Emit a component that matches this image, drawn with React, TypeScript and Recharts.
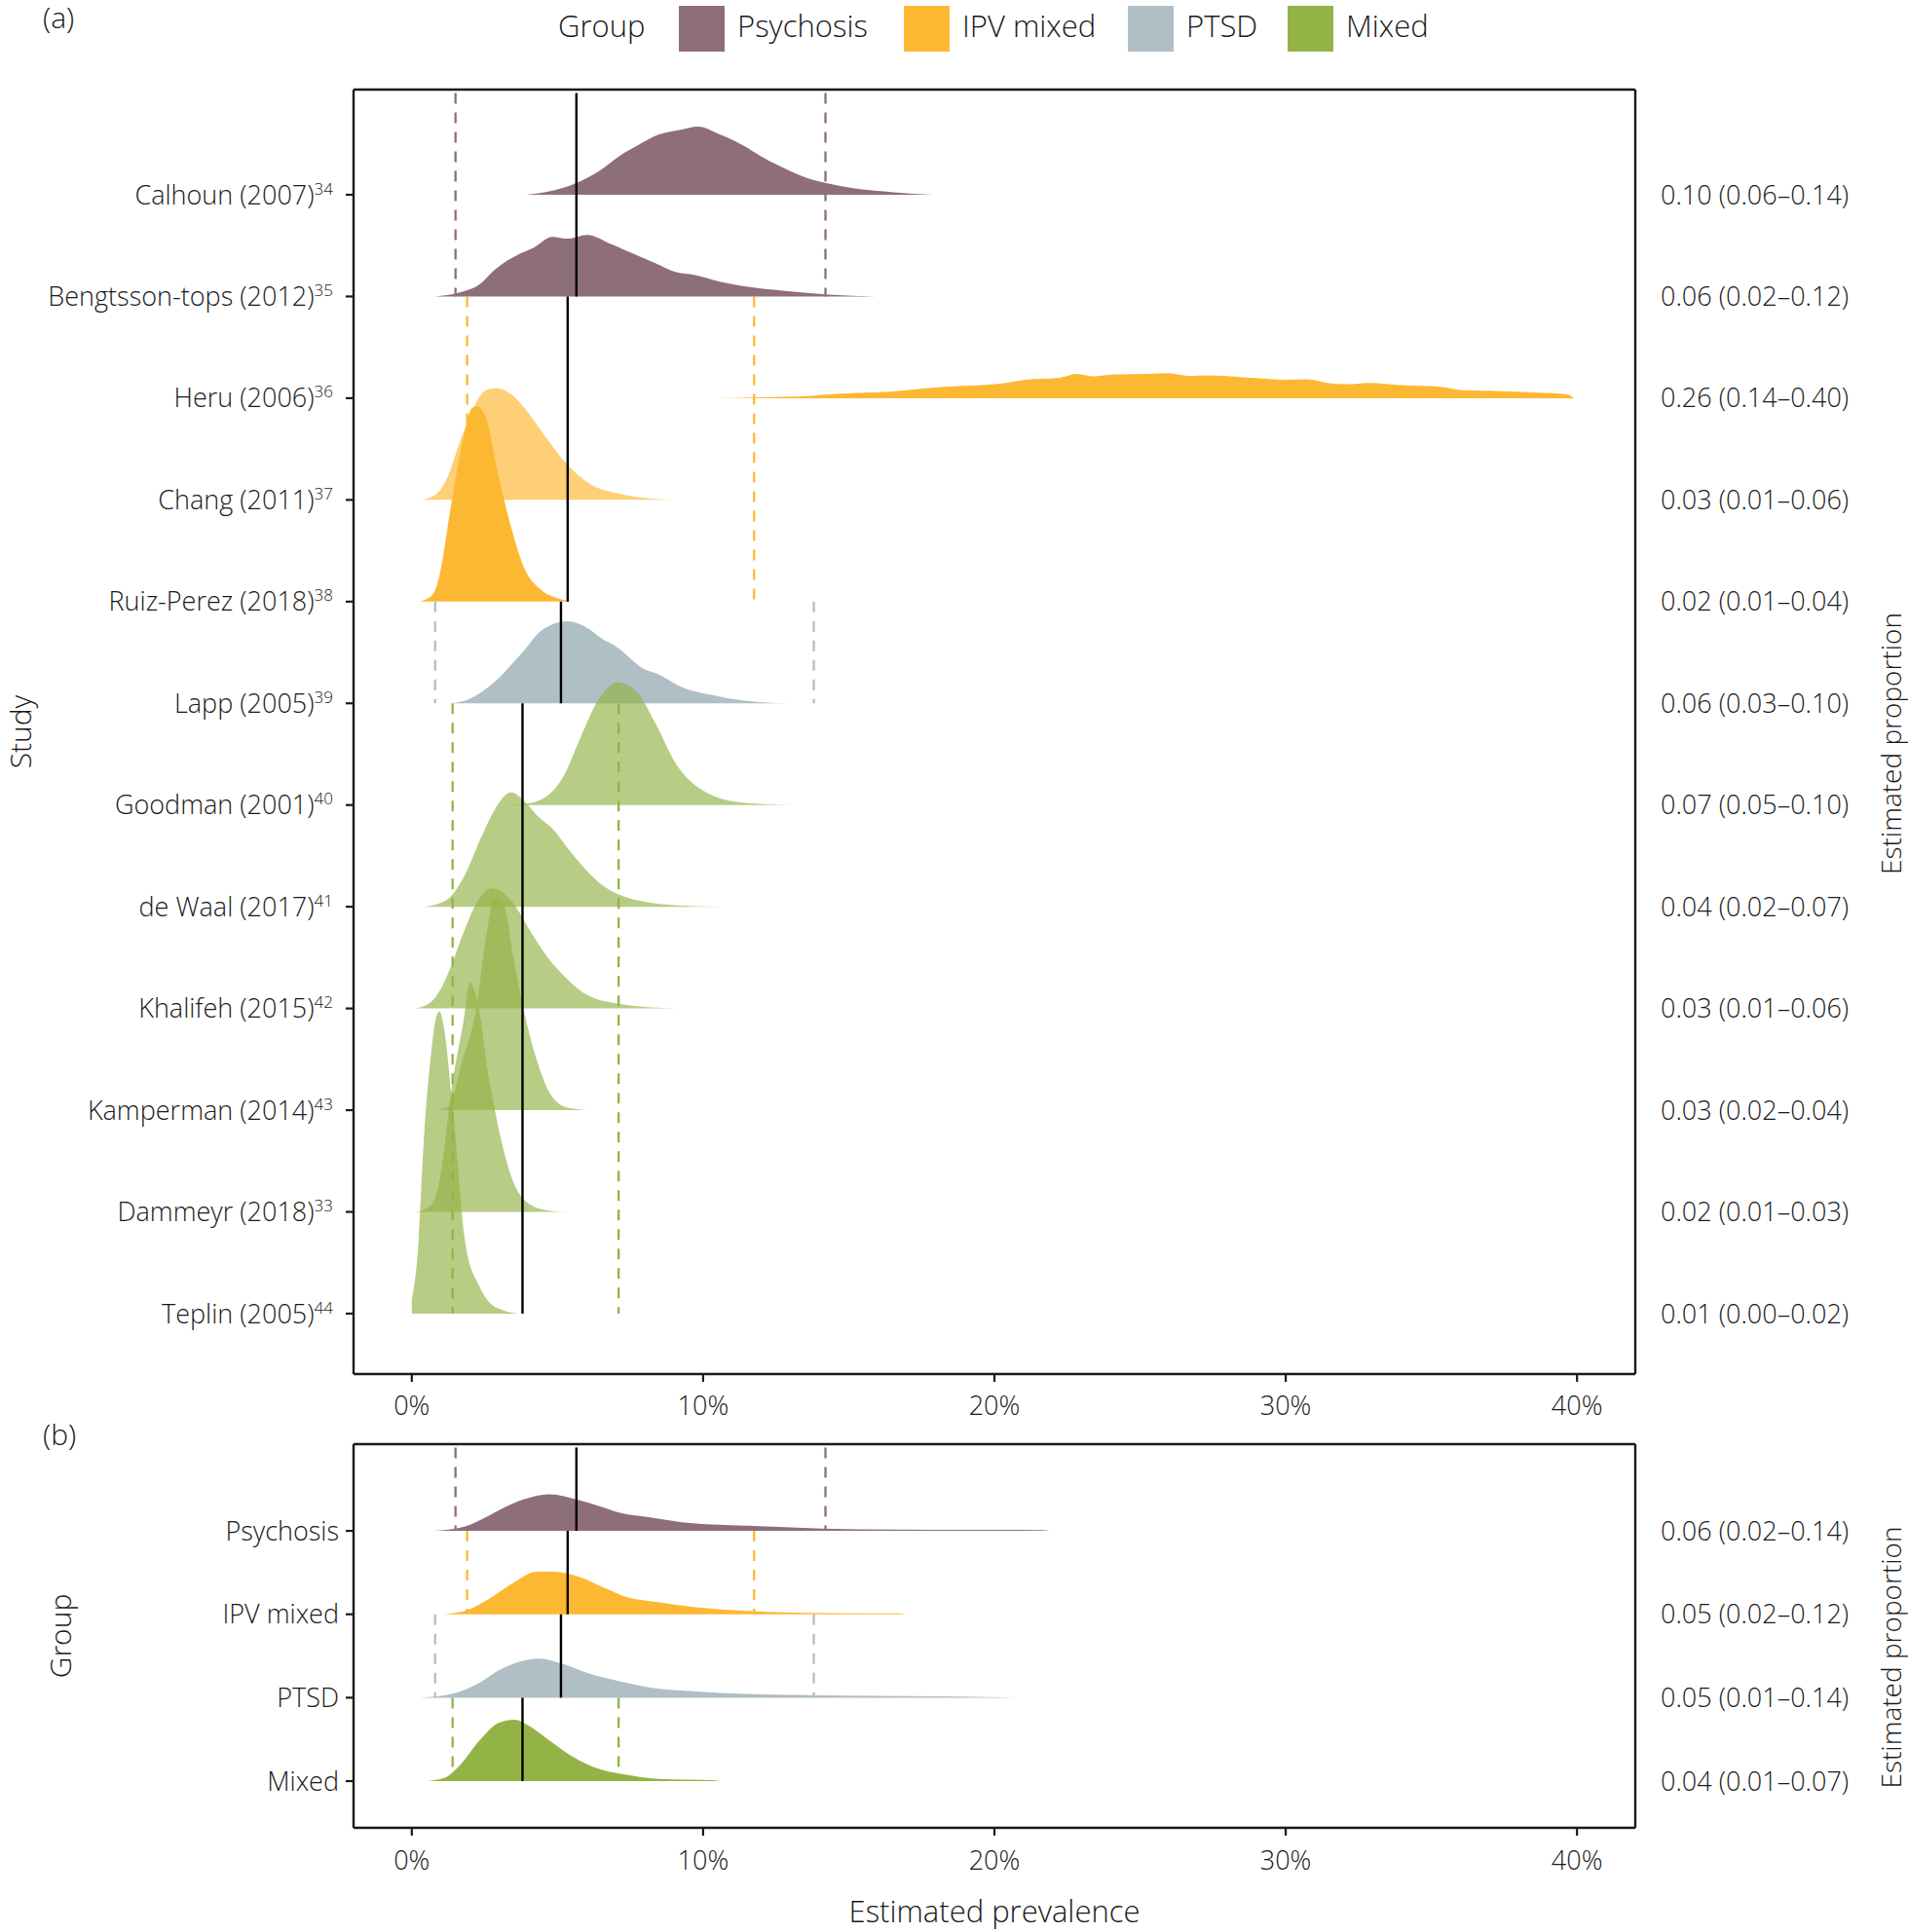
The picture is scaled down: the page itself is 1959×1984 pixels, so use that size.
import React from 'react';
import { Area, ComposedChart, ReferenceLine, XAxis, YAxis } from 'recharts';

const FONT = "'Open Sans', 'Noto Sans', sans-serif";
const INK = '#1a1a1a';

const groups = ['Psychosis', 'IPV mixed', 'PTSD', 'Mixed'];
const groupColors = ['#8e6e7b', '#fdb833', '#b0bfc6', '#93b347'];

// pooled prevalence per group (%), with the interval drawn as dashed lines
const groupPooled = [5.65, 5.35, 5.12, 3.8];
const groupLower = [1.5, 1.9, 0.8, 1.4];
const groupUpper = [14.2, 11.75, 13.8, 7.1];

// printed on the right of panel (b)
const groupProp = [0.06, 0.05, 0.05, 0.04];
const groupPropLo = [0.02, 0.02, 0.01, 0.01];
const groupPropHi = [0.14, 0.12, 0.14, 0.07];

const studies = [
  'Calhoun (2007)',
  'Bengtsson-tops (2012)',
  'Heru (2006)',
  'Chang (2011)',
  'Ruiz-Perez (2018)',
  'Lapp (2005)',
  'Goodman (2001)',
  'de Waal (2017)',
  'Khalifeh (2015)',
  'Kamperman (2014)',
  'Dammeyr (2018)',
  'Teplin (2005)',
];
const studyRefs = ['34', '35', '36', '37', '38', '39', '40', '41', '42', '43', '33', '44'];
const studyGroup = [0, 0, 1, 1, 1, 2, 3, 3, 3, 3, 3, 3];
const studyProp = [0.1, 0.06, 0.26, 0.03, 0.02, 0.06, 0.07, 0.04, 0.03, 0.03, 0.02, 0.01];
const studyPropLo = [0.06, 0.02, 0.14, 0.01, 0.01, 0.03, 0.05, 0.02, 0.01, 0.02, 0.01, 0.0];
const studyPropHi = [0.14, 0.12, 0.4, 0.06, 0.04, 0.1, 0.1, 0.07, 0.06, 0.04, 0.03, 0.02];

// posterior densities: [prevalence %, height in row units]
const calhoun = [[3.94, 0], [4.76, 0.036], [5.6, 0.11], [6.4, 0.227], [7.14, 0.384], [7.74, 0.483], [8.49, 0.593], [9.23, 0.64], [9.82, 0.67], [10.57, 0.593], [11.32, 0.494], [12.06, 0.366], [12.96, 0.237], [13.56, 0.165], [14.3, 0.11], [15.2, 0.062], [16.54, 0.025], [17.88, 0]];
const bengtsson = [[0.8, 0], [1.62, 0.037], [2.37, 0.128], [2.82, 0.256], [3.71, 0.421], [4.16, 0.477], [4.83, 0.587], [5.35, 0.568], [6.02, 0.605], [6.85, 0.513], [7.6, 0.421], [8.34, 0.33], [9.08, 0.238], [9.68, 0.212], [10.57, 0.146], [11.61, 0.092], [12.8, 0.055], [14.3, 0.019], [15.94, 0]];
const heru = [[10.48, 0], [11.7, 0.006], [13.71, 0.022], [14.16, 0.035], [16.38, 0.064], [17.94, 0.105], [20.39, 0.15], [21.06, 0.182], [22.17, 0.198], [22.84, 0.239], [23.4, 0.214], [24.07, 0.233], [25.29, 0.239], [25.96, 0.246], [26.74, 0.217], [27.3, 0.223], [28.97, 0.198], [29.97, 0.182], [30.75, 0.185], [31.42, 0.15], [32.09, 0.137], [32.87, 0.15], [33.98, 0.128], [35.32, 0.112], [36.1, 0.077], [37.21, 0.07], [38.66, 0.054], [39.66, 0.038], [39.9, 0]];
const chang = [[0.36, 0], [0.88, 0.066], [1.18, 0.194], [1.62, 0.545], [2.07, 0.874], [2.52, 1.075], [2.89, 1.1], [3.41, 1.04], [4.0, 0.855], [4.6, 0.617], [5.35, 0.343], [6.1, 0.16], [7.14, 0.06], [8.34, 0.01], [9.0, 0]];
const ruizPerez = [[0.28, 0], [0.73, 0.074], [0.95, 0.256], [1.33, 0.915], [1.77, 1.61], [2.07, 1.905], [2.22, 1.92], [2.52, 1.83], [2.97, 1.245], [3.41, 0.733], [3.86, 0.33], [4.46, 0.11], [5.05, 0.03], [5.5, 0]];
const lapp = [[1.33, 0], [1.92, 0.036], [2.82, 0.206], [3.86, 0.523], [4.46, 0.718], [5.35, 0.806], [6.02, 0.742], [6.55, 0.631], [6.99, 0.563], [8.04, 0.328], [8.34, 0.3], [9.38, 0.147], [10.27, 0.084], [11.47, 0.024], [12.96, 0]];
const goodman = [[3.12, 0], [3.86, 0.01], [4.61, 0.083], [5.2, 0.278], [5.8, 0.669], [6.4, 1.035], [7.07, 1.206], [7.74, 1.108], [8.34, 0.815], [9.08, 0.4], [9.98, 0.146], [11.32, 0.025], [13.11, 0]];
const deWaal = [[0.43, 0], [1.18, 0.063], [1.77, 0.283], [2.37, 0.674], [2.82, 0.943], [3.41, 1.123], [3.86, 1.04], [4.31, 0.894], [4.9, 0.746], [5.35, 0.576], [6.55, 0.21], [7.74, 0.063], [9.08, 0.014], [10.65, 0]];
const khalifeh = [[0.13, 0], [0.73, 0.083], [1.33, 0.4], [1.77, 0.742], [2.22, 1.035], [2.74, 1.18], [3.41, 1.06], [4.16, 0.717], [4.61, 0.522], [5.2, 0.327], [6.02, 0.132], [7.14, 0.044], [9.05, 0]];
const kamperman = [[0.8, 0], [1.25, 0.034], [1.77, 0.522], [2.22, 1.01], [2.52, 1.646], [2.86, 2.085], [3.19, 1.988], [3.49, 1.5], [3.86, 0.962], [4.31, 0.474], [4.76, 0.156], [5.35, 0.024], [6.07, 0]];
const dammeyr = [[0.13, 0], [0.65, 0.06], [0.95, 0.303], [1.4, 1.28], [1.77, 1.865], [2.0, 2.255], [2.22, 2.11], [2.67, 1.28], [3.04, 0.743], [3.41, 0.352], [4.0, 0.083], [4.76, 0.01], [5.35, 0]];
const teplin = [[0, 0.132], [0.21, 0.62], [0.43, 1.79], [0.65, 2.525], [0.8, 2.866], [0.95, 2.973], [1.1, 2.818], [1.4, 2.036], [1.85, 0.669], [2.3, 0.279], [2.67, 0.107], [3.12, 0.034], [3.64, 0]];

const studyDensity = [calhoun, bengtsson, heru, chang, ruizPerez, lapp, goodman, deWaal, khalifeh, kamperman, dammeyr, teplin];

const psychosisPooled = [[0.76, 0], [1.81, 0.05], [2.5, 0.155], [3.0, 0.25], [3.86, 0.38], [4.71, 0.44], [5.74, 0.37], [6.41, 0.3], [7.18, 0.215], [8.12, 0.165], [9.65, 0.09], [11.52, 0.061], [14.09, 0.028], [16.6, 0.016], [19.2, 0.012], [21.6, 0.01], [21.9, 0]];
const ipvPooled = [[1.1, 0], [1.98, 0.062], [2.67, 0.19], [3.52, 0.385], [4.29, 0.51], [4.88, 0.51], [5.74, 0.45], [6.59, 0.32], [7.27, 0.22], [8.46, 0.145], [9.82, 0.082], [11.52, 0.04], [14.09, 0.014], [16.7, 0.01], [16.95, 0]];
const ptsdPooled = [[0.28, 0], [1.47, 0.054], [2.33, 0.18], [3.0, 0.33], [3.69, 0.43], [4.37, 0.47], [5.22, 0.4], [6.08, 0.29], [7.1, 0.2], [8.12, 0.125], [9.82, 0.074], [11.52, 0.044], [14.93, 0.024], [19.37, 0.01], [20.7, 0]];
const mixedPooled = [[0.53, 0], [1.13, 0.04], [1.65, 0.19], [2.33, 0.49], [3.0, 0.7], [3.52, 0.735], [4.03, 0.66], [4.71, 0.49], [5.4, 0.32], [6.25, 0.168], [7.27, 0.083], [8.46, 0.028], [10.4, 0.01], [10.6, 0]];

const groupDensity = [psychosisPooled, ipvPooled, ptsdPooled, mixedPooled];

const xTicks = [0, 10, 20, 30, 40];

// fill opacity of each study ridge in panel (a)
const studyAlpha = [1, 1, 1, 0.67, 1, 1, 0.67, 0.67, 0.67, 0.67, 0.67, 0.67];

const fmt = (e: number, lo: number, hi: number) => `${e.toFixed(2)} (${lo.toFixed(2)}–${hi.toFixed(2)})`;

const axisLine = { stroke: INK, strokeWidth: 2.4 };
const tickLine = { stroke: INK, strokeWidth: 2.2 };
const tickText = { fontSize: 27, fontFamily: FONT, fill: INK, fontWeight: 300 };

const vTitle = (text: string, dx: (vb: any) => number, dy = 0, size = 30) => (props: any) => {
  const vb = props.viewBox;
  const cx = dx(vb);
  const cy = vb.y + vb.height / 2 + dy;
  return (
    <text x={cx} y={cy} transform={`rotate(-90 ${cx} ${cy})`} textAnchor="middle" dominantBaseline="central"
      fontFamily={FONT} fontSize={size} fontWeight={300} fill={INK}>{text}</text>
  );
};

function StudyTick(props: any) {
  const { x, y, payload } = props;
  const i = studies.length - payload.value;
  return (
    <text x={x} y={y} dy="0.355em" textAnchor="end" fontFamily={FONT} fontSize={27} fontWeight={300} fill={INK}>
      {studies[i]}
      <tspan fontSize={17} dy={-10}>{studyRefs[i]}</tspan>
    </text>
  );
}

function GroupTick(props: any) {
  const { x, y, payload } = props;
  const i = groups.length - payload.value;
  return (
    <text x={x} y={y} dy="0.355em" textAnchor="end" fontFamily={FONT} fontSize={27} fontWeight={300} fill={INK}>{groups[i]}</text>
  );
}

function groupLines(g: number, top: number, bottom: number) {
  const c = groupColors[g];
  return [
    <ReferenceLine key={`lo${g}`} segment={[{ x: groupLower[g], y: top }, { x: groupLower[g], y: bottom }]}
      stroke={c} strokeWidth={2.3} strokeDasharray="11 9" zIndex={50} />,
    <ReferenceLine key={`hi${g}`} segment={[{ x: groupUpper[g], y: top }, { x: groupUpper[g], y: bottom }]}
      stroke={c} strokeWidth={2.3} strokeDasharray="11 9" zIndex={50} />,
  ];
}

function PanelA() {
  const n = studies.length;
  const rows = studies.map((_, i) => n - i);
  const domain = [0.406, n + 1.034];
  const spans = groups.map((_, g) => {
    const idx = studyGroup.map((s, i) => (s === g ? i : -1)).filter((i) => i >= 0);
    return { top: n - idx[0] + 1, bottom: n - idx[idx.length - 1] };
  });
  return (
    <ComposedChart width={1959} height={1480} margin={{ top: 92, right: 0, bottom: 0, left: 0 }}>
      <XAxis dataKey="x" type="number" domain={[-2, 42]} ticks={xTicks} interval={0} allowDataOverflow
        tickFormatter={(v) => `${v}%`} height={69} tickSize={8} tickMargin={15}
        axisLine={axisLine} tickLine={tickLine} tick={tickText} />
      <YAxis type="number" domain={domain} ticks={rows} interval={0} allowDataOverflow width={363}
        tickSize={8} tickMargin={13} axisLine={axisLine} tickLine={tickLine} tick={<StudyTick />}
        label={vTitle('Study', (vb) => vb.x + 20)} />
      <YAxis yAxisId="right" orientation="right" type="number" domain={domain} ticks={rows} interval={0}
        allowDataOverflow width={280} tickSize={0} tickMargin={26} tickLine={false} axisLine={axisLine}
        tickFormatter={(v) => { const i = n - v; return fmt(studyProp[i], studyPropLo[i], studyPropHi[i]); }}
        tick={tickText}
        label={vTitle('Estimated proportion', (vb) => vb.x + vb.width - 18, 12, 28)} />
      {groups.map((_, g) => groupLines(g, spans[g].top, spans[g].bottom))}
      {studies.map((s, i) => (
        <Area key={s} data={studyDensity[i].map(([x, h]) => ({ x, y: rows[i] + h }))} dataKey="y"
          baseValue={rows[i]} type="monotone" stroke="none" fill={groupColors[studyGroup[i]]}
          fillOpacity={studyAlpha[i]} isAnimationActive={false} dot={false} activeDot={false} />
      ))}
      {groups.map((g, gi) => (
        <ReferenceLine key={`est${g}`} segment={[{ x: groupPooled[gi], y: spans[gi].top }, { x: groupPooled[gi], y: spans[gi].bottom }]}
          stroke="#000" strokeWidth={2.4} zIndex={450} />
      ))}
      <ReferenceLine y={domain[1]} stroke={INK} strokeWidth={2.4} zIndex={500} />
    </ComposedChart>
  );
}

function PanelB() {
  const n = groups.length;
  const rows = groups.map((_, i) => n - i);
  const domain = [0.44, n + 1.04];
  return (
    <ComposedChart width={1959} height={584} margin={{ top: 83, right: 0, bottom: 0, left: 0 }}>
      <XAxis dataKey="x" type="number" domain={[-2, 42]} ticks={xTicks} interval={0} allowDataOverflow
        tickFormatter={(v) => `${v}%`} height={107} tickSize={8} tickMargin={16}
        axisLine={axisLine} tickLine={tickLine} tick={tickText}
        label={(props: any) => {
          const vb = props.viewBox;
          return (
            <text x={vb.x + vb.width / 2} y={vb.y + 97} textAnchor="middle" fontFamily={FONT} fontSize={31}
              fontWeight={300} fill={INK}>
              Estimated prevalence
            </text>
          );
        }} />
      <YAxis type="number" domain={domain} ticks={rows} interval={0} allowDataOverflow width={363}
        tickSize={8} tickMargin={7} axisLine={axisLine} tickLine={tickLine} tick={<GroupTick />}
        label={vTitle('Group', (vb) => vb.x + 61)} />
      <YAxis yAxisId="right" orientation="right" type="number" domain={domain} ticks={rows} interval={0}
        allowDataOverflow width={280} tickSize={0} tickMargin={26} tickLine={false} axisLine={axisLine}
        tickFormatter={(v) => { const i = n - v; return fmt(groupProp[i], groupPropLo[i], groupPropHi[i]); }}
        tick={tickText}
        label={vTitle('Estimated proportion', (vb) => vb.x + vb.width - 18, 22, 28)} />
      {groups.map((_, g) => groupLines(g, rows[g] + 1, rows[g]))}
      {groups.map((g, i) => (
        <Area key={g} data={groupDensity[i].map(([x, h]) => ({ x, y: rows[i] + h }))} dataKey="y"
          baseValue={rows[i]} type="monotone" stroke="none" fill={groupColors[i]} fillOpacity={1}
          isAnimationActive={false} dot={false} activeDot={false} />
      ))}
      {groups.map((g, i) => (
        <ReferenceLine key={`est${g}`} segment={[{ x: groupPooled[i], y: rows[i] + 1 }, { x: groupPooled[i], y: rows[i] }]}
          stroke="#000" strokeWidth={2.4} zIndex={450} />
      ))}
      <ReferenceLine y={domain[1]} stroke={INK} strokeWidth={2.4} zIndex={500} />
    </ComposedChart>
  );
}

const swatchLeft = [697, 928, 1158, 1322];

function GroupLegend() {
  return (
    <div style={{ position: 'absolute', left: 0, top: 0, fontFamily: FONT, fontSize: 31, fontWeight: 300, color: INK }}>
      <div style={{ position: 'absolute', left: 573, top: 7, lineHeight: '38px', whiteSpace: 'nowrap' }}>Group</div>
      {groups.map((g, i) => (
        <React.Fragment key={g}>
          <div style={{ position: 'absolute', left: swatchLeft[i], top: 6, width: 47, height: 47, background: groupColors[i] }} />
          <div style={{ position: 'absolute', left: swatchLeft[i] + 60, top: 7, lineHeight: '38px', whiteSpace: 'nowrap' }}>{g}</div>
        </React.Fragment>
      ))}
    </div>
  );
}

const tag = { position: 'absolute' as const, left: 44, fontFamily: FONT, fontSize: 30, fontWeight: 300, lineHeight: '38px', color: INK };

export default function App() {
  return (
    <div style={{ position: 'absolute', left: 0, top: 0, width: 1959, height: 1984, background: '#fff' }}>
      <div style={{ position: 'absolute', left: 0, top: 0 }}>
        <PanelA />
      </div>
      <div style={{ position: 'absolute', left: 0, top: 1400 }}>
        <PanelB />
      </div>
      <GroupLegend />
      <div style={{ ...tag, top: -1 }}>(a)</div>
      <div style={{ ...tag, top: 1454 }}>(b)</div>
    </div>
  );
}
